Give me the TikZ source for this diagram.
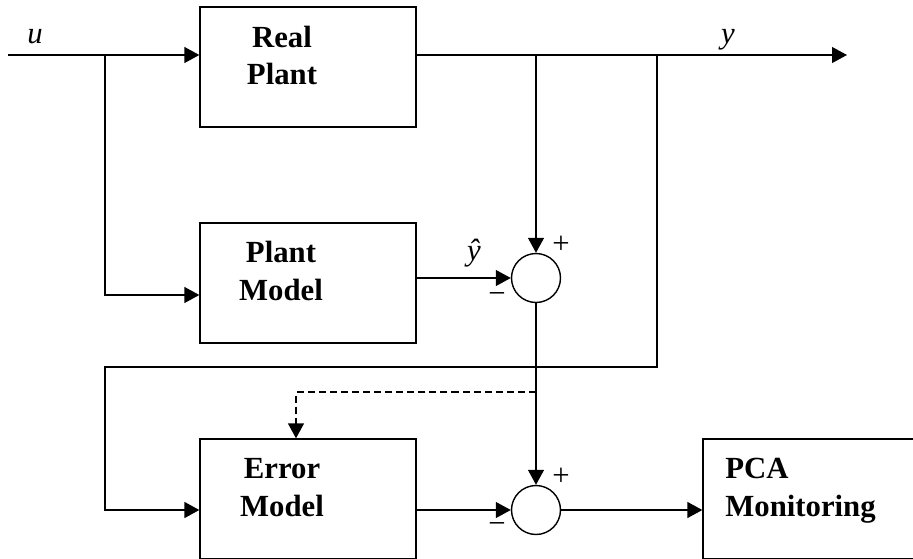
\documentclass[tikz,border=0pt]{standalone}
\usepackage{fontspec}
\setmainfont{Liberation Serif}
\usepackage{tikz}
\usetikzlibrary{arrows.meta,positioning}

\begin{document}
\begin{tikzpicture}[
    x=0.02cm, y=-0.02cm,
    >={Triangle[length=8.5pt,width=9pt]},
    blockbox/.style={draw=black, line width=0.75pt, minimum width=4.32cm, minimum height=2.4cm, inner sep=0},
    sumnode/.style={circle, draw=black, line width=0.8pt, minimum size=0.98cm, inner sep=0},
    blocklabel/.style={font=\fontsize{17.5}{21.5}\selectfont\bfseries, align=center, inner sep=0},
    varlabel/.style={font=\fontsize{17.5}{21}\selectfont\itshape, inner sep=0},
    signlabel/.style={font=\fontsize{17.5}{21}\selectfont, inner sep=0},
    sig/.style={->, draw=black, line width=0.9pt},
    fbline/.style={->, draw=black, line width=1.1pt},
    estline/.style={->, draw=black, line width=0.9pt, dash pattern=on 4pt off 2.3pt}
    ]
    \useasboundingbox (0,0) rectangle (913,558);
    \clip (0,0) rectangle (913,558);

    \node[blockbox] (real) at (308,67) {};
    \node[blockbox] (plant) at (308,283) {};
    \node[blockbox] (error) at (308,499) {};
    \node[blockbox] (pca) at (811,499) {};
    \node[sumnode] (sum1) at (536,278) {};
    \node[sumnode] (sum2) at (536,510) {};

    \node[blocklabel, anchor=north] (realtxt) at (282,25.5) {Real\\Plant};
    \node[blocklabel, anchor=north] (planttxt) at (281,241) {Plant\\Model};
    \node[blocklabel, anchor=north] (errortxt) at (282,458) {Error\\Model};
    \node[blocklabel, anchor=north west, align=left] (pcatxt) at (725,458) {PCA\\Monitoring};

    \coordinate (uin) at (8,55);
    \coordinate (ubr) at (105,55);
    \coordinate (ybr) at (657,55);
    \coordinate (yout) at (847,55);
    \coordinate (fbc) at (105,367);

    \node[varlabel, anchor=base] (ulab) at (35,43) {u};
    \node[varlabel, anchor=base] (ylab) at (728,43) {y};
    \node[varlabel, anchor=base] (yhatlab) at (474,260) {ŷ};
    \node[signlabel] (plus1) at (561,245) {+};
    \node[signlabel] (minus1) at (497,298) {−};
    \node[signlabel] (plus2) at (561,477) {+};
    \node[signlabel] (minus2) at (497,528) {−};

    \draw[sig] (uin) -- (real.west |- uin);
    \draw[sig] (ubr) |- (plant.west |- 0,295);
    \draw[sig] (real.east |- yout) -- (yout);
    \draw[sig] (sum1.north |- yout) -- (sum1.north);
    \draw[sig] (plant.east |- sum1) -- (sum1.west);
    \draw[sig] (sum1.south) -- (sum2.north);
    \draw[fbline] (ybr) |- (fbc) |- (error.west |- sum2);
    \draw[estline] (sum1.south |- 0,392) -| (error.north -| 296,0);
    \draw[sig] (error.east |- sum2) -- (sum2.west);
    \draw[sig] (sum2.east) -- (pca.west |- sum2);
  \end{tikzpicture}
\end{document}
